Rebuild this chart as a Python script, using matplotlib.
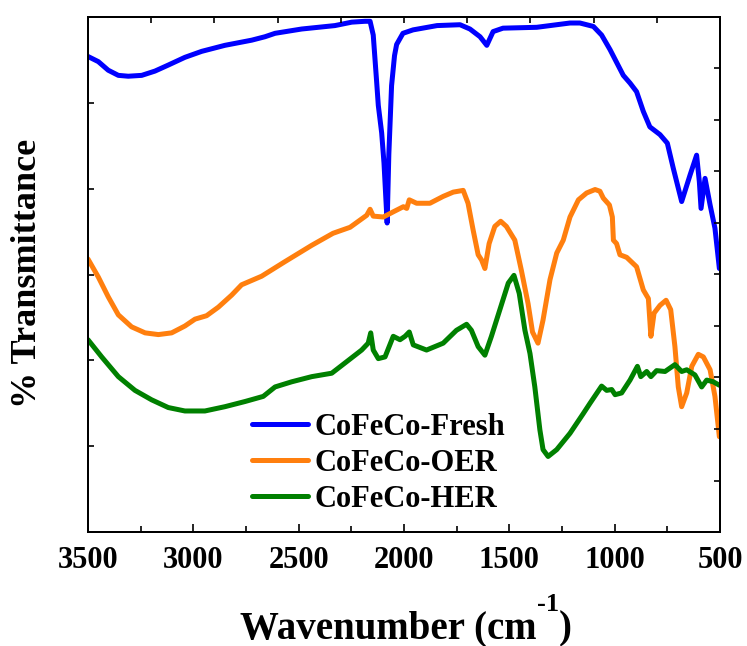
import matplotlib
matplotlib.use("Agg")
import matplotlib.pyplot as plt
from matplotlib.ticker import MultipleLocator, FixedLocator, NullFormatter
import numpy as np

plt.rcParams['font.family'] = ['Liberation Serif', 'DejaVu Serif']
plt.rcParams['font.weight'] = 'bold'

# FTIR spectra (offset, arbitrary transmittance units)
fresh_wn = [3500, 3451, 3404, 3356, 3309, 3245, 3182, 3119, 3040, 2960, 2850, 2723,
            2660, 2612, 2486, 2328, 2248, 2185, 2161, 2146, 2130, 2122, 2106, 2095,
            2080, 2072, 2059, 2045, 2035, 2005, 1957, 1843, 1734, 1687, 1639, 1607,
            1577, 1530, 1370, 1212, 1165, 1101, 1062, 1022, 959, 927, 896, 864, 833,
            785, 750, 722, 682, 642, 611, 598, 590, 571, 547, 524, 503]
fresh_t = [5.54, 5.48, 5.38, 5.32, 5.31, 5.32, 5.37, 5.44, 5.53, 5.60, 5.67, 5.73,
           5.77, 5.81, 5.86, 5.90, 5.94, 5.95, 5.95, 5.79, 5.25, 4.97, 4.65, 4.30,
           3.60, 4.40, 5.20, 5.55, 5.68, 5.81, 5.85, 5.90, 5.91, 5.86, 5.77, 5.67,
           5.83, 5.87, 5.88, 5.93, 5.93, 5.89, 5.79, 5.62, 5.32, 5.23, 5.13, 4.90, 4.72,
           4.63, 4.53, 4.24, 3.85, 4.16, 4.39, 4.08, 3.77, 4.12, 3.81, 3.54, 3.07]

oer_wn = [3500, 3451, 3404, 3356, 3293, 3229, 3166, 3103, 3040, 2992, 2937, 2881,
          2818, 2771, 2676, 2565, 2438, 2337, 2256, 2177, 2161, 2146, 2098, 2051,
          2003, 1987, 1975, 1940, 1877, 1814, 1766, 1719, 1696, 1672, 1648, 1632,
          1616, 1596, 1569, 1541, 1514, 1474, 1443, 1411, 1390, 1364, 1340, 1307,
          1275, 1244, 1212, 1172, 1133, 1093, 1070, 1054, 1025, 1011, 1006, 991,
          975, 943, 896, 864, 840, 828, 813, 785, 756, 734, 714, 698, 682, 658,
          634, 603, 579, 547, 524, 503]
oer_t = [3.18, 2.97, 2.74, 2.53, 2.39, 2.32, 2.30, 2.32, 2.40, 2.48, 2.52, 2.62,
         2.76, 2.88, 2.98, 3.15, 3.34, 3.48, 3.55, 3.69, 3.76, 3.68, 3.67, 3.73,
         3.79, 3.77, 3.87, 3.83, 3.83, 3.91, 3.96, 3.98, 3.83, 3.52, 3.23, 3.17,
         3.07, 3.36, 3.56, 3.62, 3.56, 3.40, 3.05, 2.66, 2.33, 2.20, 2.47, 2.94,
         3.25, 3.40, 3.67, 3.87, 3.95, 3.99, 3.97, 3.89, 3.81, 3.67, 3.40, 3.36,
         3.23, 3.20, 3.09, 2.82, 2.72, 2.28, 2.55, 2.64, 2.70, 2.59, 2.16, 1.69,
         1.46, 1.62, 1.93, 2.07, 2.04, 1.89, 1.58, 1.11]

her_wn = [3500, 3435, 3356, 3277, 3198, 3119, 3040, 2945, 2850, 2755, 2668, 2612,
          2533, 2438, 2343, 2264, 2201, 2170, 2158, 2146, 2122, 2090, 2051, 2019,
          1995, 1975, 1956, 1893, 1814, 1751, 1703, 1680, 1648, 1616, 1585, 1545,
          1505, 1478, 1453, 1426, 1402, 1379, 1355, 1340, 1316, 1275, 1212, 1149,
          1117, 1062, 1038, 1014, 998, 967, 927, 892, 876, 848, 828, 801, 761, 714,
          682, 658, 619, 587, 563, 532, 503]
her_t = [2.24, 2.04, 1.81, 1.65, 1.54, 1.45, 1.41, 1.41, 1.46, 1.52, 1.58, 1.69,
         1.75, 1.81, 1.85, 2.00, 2.12, 2.20, 2.32, 2.12, 2.02, 2.04, 2.28, 2.24,
         2.28, 2.33, 2.18, 2.12, 2.20, 2.35, 2.42, 2.35, 2.16, 2.06, 2.28, 2.59,
         2.90, 2.99, 2.78, 2.35, 2.08, 1.69, 1.19, 0.96, 0.88, 0.96, 1.15, 1.38,
         1.50, 1.70, 1.65, 1.66, 1.60, 1.62, 1.77, 1.93, 1.81, 1.87, 1.81, 1.88,
         1.87, 1.95, 1.87, 1.89, 1.83, 1.69, 1.77, 1.75, 1.71]

series = [
    ("CoFeCo-Fresh", fresh_wn, fresh_t, "#0000ff"),
    ("CoFeCo-OER", oer_wn, oer_t, "#ff7f0e"),
    ("CoFeCo-HER", her_wn, her_t, "#008000"),
]

W, H = 747, 646
fig = plt.figure(figsize=(W / 100, H / 100), dpi=100)
ax = fig.add_axes([88 / W, 1 - 532 / H, 632 / W, 515 / H])

for name, wn, t, col in series:
    ax.plot(wn, t, color=col, lw=3.6, label=name, solid_joinstyle='round',
            solid_capstyle='round')

ax.set_xlim(3500, 500)
ax.set_ylim(0, 6)

ax.xaxis.set_major_locator(MultipleLocator(500))
ax.xaxis.set_minor_locator(MultipleLocator(250))
ax.yaxis.set_major_locator(MultipleLocator(1))
ax.yaxis.set_major_formatter(NullFormatter())
ax.tick_params(axis='x', which='major', direction='in', length=6, width=1.2,
               labelsize=22, pad=10, top=False)
ax.tick_params(axis='x', which='minor', direction='in', length=4, width=1.2, top=False)
ax.tick_params(axis='y', which='major', direction='in', length=4, width=1.2,
               right=False)
for lab in ax.get_xticklabels():
    lab.set_fontweight('bold')

# top and right frame ticks use their own spacing
axt = ax.twiny()
axt.set_xlim(3500, 500)
axt.xaxis.set_major_locator(FixedLocator(np.arange(3500, 499, -300)))
axt.xaxis.set_major_formatter(NullFormatter())
axt.tick_params(axis='x', direction='in', length=4, width=1.2)
axr = ax.twinx()
axr.set_ylim(0, 10)
axr.yaxis.set_major_locator(MultipleLocator(1))
axr.yaxis.set_major_formatter(NullFormatter())
axr.tick_params(axis='y', direction='in', length=4, width=1.2)
for a in (ax, axt, axr):
    for s in a.spines.values():
        s.set_linewidth(1.3)

leg = ax.legend(loc='upper left', bbox_to_anchor=(0.259, 0.232), frameon=False,
                prop={'family': 'Liberation Serif', 'weight': 'bold', 'size': 22},
                handlelength=1.85, handletextpad=0.22, labelspacing=0.24,
                borderpad=0, borderaxespad=0)
for ln in leg.get_lines():
    ln.set_linewidth(3.6)

# x-axis title with a raised "-1"
fig.canvas.draw()
renderer = fig.canvas.get_renderer()
parts = [("Wavenumber (cm", 28, 0), ("-1", 19, 27), (")", 28, 0)]
texts = []
for s, size, _ in parts:
    t = fig.text(0, 0, s, fontsize=size, fontweight='bold', ha='left', va='baseline')
    texts.append(t)
widths = [t.get_window_extent(renderer).width for t in texts]
x0 = 406 - sum(widths) / 2
base = H - 638
for t, w, (_, _, rise) in zip(texts, widths, parts):
    t.set_position((x0 / W, (base + rise) / H))
    x0 += w

fig.text(28 / W, 1 - 273 / H, '% Transmittance', ha='center', va='center',
         rotation=90, fontsize=26, fontweight='bold')

fig.savefig('out.png', dpi=100)
